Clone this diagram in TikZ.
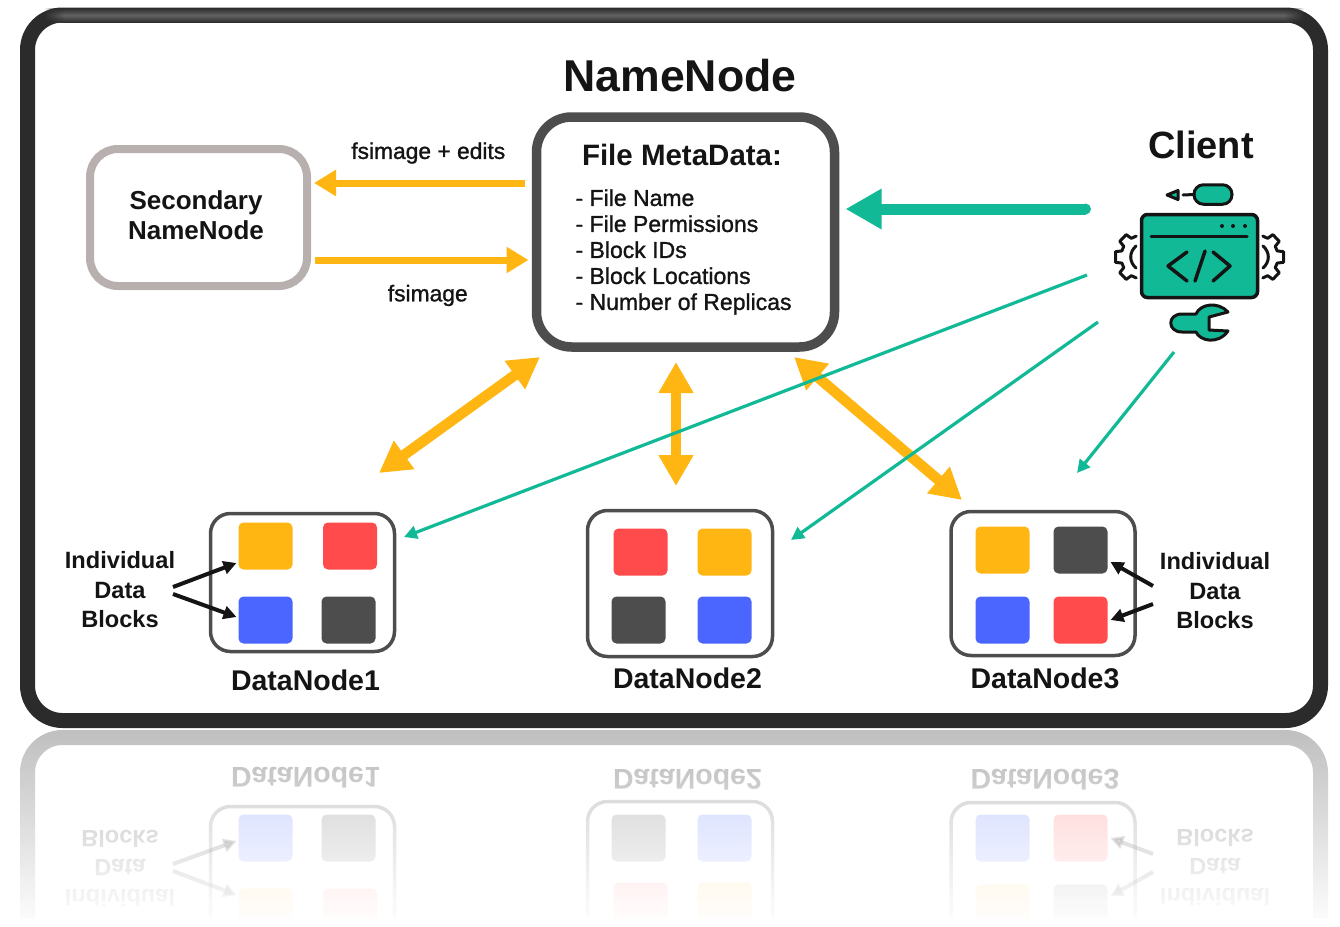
\documentclass[tikz,border=0pt]{standalone}
\usepackage{fontspec}
\setmainfont{Liberation Sans}
\newfontfamily\softbold[FakeBold=1.2]{Liberation Sans}
\usetikzlibrary{arrows.meta, calc, fadings, positioning}
\definecolor{framedark}{HTML}{2B2B2B}
\definecolor{frametop}{HTML}{626262}
\definecolor{boxdark}{HTML}{4D4D4D}
\definecolor{boxgrey}{HTML}{B8AFAF}
\definecolor{flowyellow}{HTML}{FFB612}
\definecolor{clientteal}{HTML}{12B996}
\definecolor{blockred}{HTML}{FF4B4B}
\definecolor{blockblue}{HTML}{4A66FF}
\definecolor{blockdark}{HTML}{4D4D4D}
\definecolor{inkdark}{HTML}{141414}
\tikzfading[name=reflectfade, top color=transparent!100, bottom color=transparent!0]
\tikzfading[name=stripleft, left color=transparent!100, right color=transparent!0]
\tikzfading[name=stripright, left color=transparent!0, right color=transparent!100]
\tikzset{
  datanode/.style={draw=boxdark, line width=3.5pt, rounded corners=20pt, outer sep=0pt, inner sep=0pt},
  datablock/.style={rounded corners=5pt, minimum width=54pt, minimum height=47pt, inner sep=0pt, outer sep=0pt},
  blockarrow/.style={draw=inkdark, line width=4pt, -{Triangle[width=13pt,length=13pt]}},
  syncarrow/.style={draw=flowyellow, line width=7pt, -{Triangle[width=25pt,length=22pt]}},
  replyarrow/.style={draw=flowyellow, line width=10.5pt, {Triangle[width=33pt,length=31pt]}-{Triangle[width=33pt,length=31pt]}},
  clientarrow/.style={draw=clientteal, line width=3.2pt, -{Triangle[width=13pt,length=13pt]}},
  iconline/.style={draw=inkdark, line width=3pt, line join=round, line cap=round},
  framestrip/.style={top color=framedark, bottom color=framedark, middle color=frametop},
  blocktext/.style={font=\fontsize{23.6}{29.5}\selectfont\bfseries, text=inkdark, align=center},
  nodetext/.style={font=\fontsize{28.5}{32}\selectfont\bfseries, text=inkdark},
  flowtext/.style={font=\softbold\fontsize{22.8}{26}\selectfont, text=inkdark}
}
% Everything below the name node, used twice for the mirror image
\newcommand{\drawdatarow}{
  % DataNode1
  \node[datanode, minimum width=184pt, minimum height=138pt] (dn1) at (302.5,582.5) {};
  \node[datablock, fill=flowyellow] (d1a) at (265.5,546) {};
  \node[datablock, fill=blockred] (d1b) at (350,546) {};
  \node[datablock, fill=blockblue] (d1c) at (265.5,620) {};
  \node[datablock, fill=blockdark] (d1d) at (348.5,620) {};
  \node[nodetext] (dn1name) at (305.5,680) {DataNode1};
  % DataNode2
  \node[datanode, minimum width=185pt, minimum height=146pt] (dn2) at (680,583.5) {};
  \node[datablock, fill=blockred] (d2a) at (640.5,552) {};
  \node[datablock, fill=flowyellow] (d2b) at (724.5,552) {};
  \node[datablock, fill=blockdark] (d2c) at (638.5,620) {};
  \node[datablock, fill=blockblue] (d2d) at (724.5,620) {};
  \node[nodetext] (dn2name) at (687.5,678) {DataNode2};
  % DataNode3
  \node[datanode, minimum width=184pt, minimum height=144pt] (dn3) at (1043,583.5) {};
  \node[datablock, fill=flowyellow] (d3a) at (1002.5,550) {};
  \node[datablock, fill=blockdark] (d3b) at (1080.5,550) {};
  \node[datablock, fill=blockblue] (d3c) at (1002.5,620) {};
  \node[datablock, fill=blockred] (d3d) at (1080.5,620) {};
  \node[nodetext] (dn3name) at (1045,678) {DataNode3};
  % Block labels
  \node[blocktext] (blocksleft) at (120,590) {Individual\\Data\\Blocks};
  \node[blocktext] (blocksright) at (1215,591) {Individual\\Data\\Blocks};
  \draw[blockarrow] ([shift={(53,-3)}]blocksleft.center) -- ([shift={(-2,17)}]d1a.west);
  \draw[blockarrow] ([shift={(53,4)}]blocksleft.center) -- ([shift={(-2,-3)}]d1c.west);
  \draw[blockarrow] ([shift={(-62,-5)}]blocksright.center) -- ([shift={(3,12)}]d3b.east);
  \draw[blockarrow] ([shift={(-62,13)}]blocksright.center) -- ([shift={(3,0)}]d3d.east);
}

\begin{document}
\begin{tikzpicture}[x=1pt, y=-1pt]
  \useasboundingbox (0,0) rectangle (1340,926);

  % Mirror image under the frame
  \begin{scope}
    \clip (0,729) rectangle (1340,918);
    \begin{scope}[cm={1,0,0,-1,(0,1458)}, transform shape, opacity=0.3, name prefix=mirror-]
      \draw[framedark, line width=15pt, rounded corners=35pt] (27.5,15) rectangle (1320.5,720.5);
      \drawdatarow
    \end{scope}
    \fill[white, path fading=reflectfade] (0,729) rectangle (1340,926);
  \end{scope}

  % Frame
  \draw[framedark, line width=15pt, rounded corners=35pt] (27.5,15) rectangle (1320.5,720.5);
  \shade[framestrip] (64,8) rectangle (1284,22.5);
  \shade[framestrip, path fading=stripleft] (44,8) rectangle (64,22.5);
  \shade[framestrip, path fading=stripright] (1284,8) rectangle (1304,22.5);

  % Name node and secondary name node
  \node[font=\fontsize{44.6}{50}\selectfont\bfseries, text=inkdark] (nntitle) at (680,76) {NameNode};
  \node[draw=boxdark, line width=9.5pt, rounded corners=35pt, minimum width=298pt, minimum height=230pt, outer sep=0pt] (namenode) at (685.5,232) {};
  \node[font=\fontsize{29.5}{32}\selectfont\bfseries, text=inkdark] (metatitle) at (682,155) {File MetaData:};
  \node[font=\softbold\fontsize{23}{26}\selectfont, text=inkdark, align=left, anchor=west] (metalist) at (572,252) {- File Name\\- File Permissions\\- Block IDs\\- Block Locations\\- Number of Replicas};
  \node[draw=boxgrey, line width=8pt, rounded corners=28pt, minimum width=217pt, minimum height=137pt, outer sep=0pt] (secondary) at (198.5,217.5) {};
  \node[font=\fontsize{26}{30}\selectfont\bfseries, text=inkdark, align=center] (secname) at (196,215) {Secondary\\NameNode};

  % Client icon
  \node[font=\fontsize{38}{42}\selectfont\bfseries, text=inkdark] (clienttitle) at (1201,145) {Client};
  \node[draw=inkdark, fill=clientteal, line width=3.5pt, rounded corners=6pt, minimum width=116pt, minimum height=83pt, outer sep=0pt] (clientscreen) at (1199.5,256) {};
  \draw[iconline] (1151,236) -- (1247,236);
  \fill[inkdark] (1222,226) circle (2pt) (1233,226) circle (2pt) (1245,226) circle (2pt);
  \draw[iconline, line width=3.5pt] (1187,252) -- (1168,266) -- (1187,281);
  \draw[iconline, line width=3.5pt] (1205,251) -- (1195,281);
  \draw[iconline, line width=3.5pt] (1213,252) -- (1230,266) -- (1213,281);
  \node[draw=inkdark, fill=clientteal, line width=3pt, rounded corners=9.5pt, minimum width=38pt, minimum height=19.5pt, inner sep=0pt, outer sep=0pt] (clientmouse) at (1213,194.5) {};
  \coordinate (mousecord) at (1183,195);
  \draw[iconline] (mousecord) -- (clientmouse.west);
  \draw[iconline, fill=clientteal] (1167,195) -- (1178,190.5) -- (1178,199.5) -- cycle;
  \foreach \side in {-1,1} {
    \begin{scope}[shift={(1199.5,257)}, xscale=\side]
      \begin{scope}[shift={(-56.5,0)}]
        \draw[iconline] (108:22) -- (122:22) -- (127:28) -- (146:28) -- (151:22)
          -- (164:22) -- (169:28) -- (191:28) -- (196:22)
          -- (209:22) -- (214:28) -- (233:28) -- (238:22) -- (252:22);
        \draw[iconline] (122:13) .. controls (160:15) and (200:15) .. (238:13);
      \end{scope}
    \end{scope}
  }
  \draw[iconline, fill=clientteal] (1182,314) -- (1196,314) .. controls (1200,304) and (1218,301) .. (1228,312)
    -- (1209,317) -- (1209,330) -- (1228,331) .. controls (1218,345) and (1200,341) .. (1196,332)
    -- (1182,332) .. controls (1167,332) and (1167,314) .. cycle;

  % Data nodes
  \drawdatarow

  % Name node connectors
  \draw[syncarrow] ([shift={(-12,-49)}]namenode.west) -- node[above=12.5pt, xshift=9pt, flowtext] (editslabel) {fsimage + edits} ([shift={(7,-34.5)}]secondary.east);
  \draw[syncarrow] ([shift={(8,42.5)}]secondary.east) -- node[below=18pt, xshift=6pt, flowtext] (imagelabel) {fsimage} ([shift={(-8,28)}]namenode.west);
  \draw[replyarrow] ([shift={(3.5,10)}]namenode.south west) -- ([shift={(76.5,-40.5)}]dn1.north);
  \draw[replyarrow] ([shift={(-9.5,15)}]namenode.south) -- ([shift={(-4,-24.5)}]dn2.north);
  \draw[replyarrow] ([shift={(-40.5,10)}]namenode.south east) -- ([shift={(-81,-11.5)}]dn3.north);

  % Client connectors
  \draw[clientarrow] ([shift={(-54.5,19)}]clientscreen.west) -- ([shift={(9.5,-45.5)}]dn1.east);
  \draw[clientarrow] ([shift={(-43.5,66)}]clientscreen.west) -- ([shift={(18.5,-43.5)}]dn2.east);
  \draw[clientarrow] ([shift={(-25.5,54.5)}]clientscreen.south) -- ([shift={(34,-38.5)}]dn3.north);
  \draw[draw=clientteal, line width=11pt, -{Triangle[width=38pt,length=36pt]}] ([shift={(-56,-47)}]clientscreen.west) -- ([shift={(11,-23)}]namenode.east);
  \fill[clientteal] ([shift={(-56,-47)}]clientscreen.west) circle (5.5pt);
\end{tikzpicture}
\end{document}
